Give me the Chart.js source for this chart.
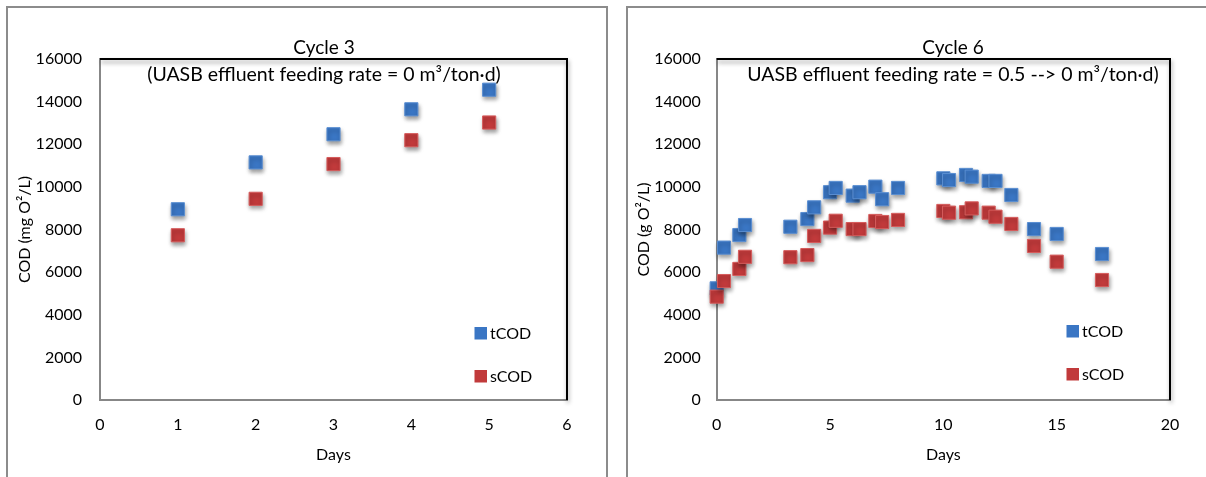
<!DOCTYPE html>
<html>
<head>
<meta charset="utf-8">
<script src="https://cdn.jsdelivr.net/npm/chart.js@4.4.1/dist/chart.umd.min.js"></script>
<style>
  body { margin: 0; background: #fff; width: 1206px; height: 477px; overflow: hidden; position: relative; }
  .panel { position: absolute; top: 6px; height: 490px; border: 2px solid #8c8c8c; box-sizing: border-box; }
  #p1 { left: 6px; width: 602px; }
  #p2 { left: 626px; width: 600px; }
  canvas { position: absolute; top: 0; }
  #c3 { left: 0; }
  #c6 { left: 620px; }
</style>
</head>
<body>
<div class="panel" id="p1"></div>
<div class="panel" id="p2"></div>
<canvas id="c3" width="610" height="477"></canvas>
<canvas id="c6" width="586" height="477"></canvas>
<script>
// Cycle 3
const c3Days = [1, 2, 3, 4, 5];
const c3tCOD = [8950, 11150, 12470, 13640, 14560];
const c3sCOD = [7730, 9440, 11070, 12190, 13020];

// Cycle 6
const c6Days = [0, 0.32, 1, 1.25, 3.25, 4, 4.3, 5, 5.25, 6, 6.3, 7, 7.3, 8, 10, 10.25, 11, 11.25, 12, 12.3, 13, 14, 15, 17];
const c6tCOD = [5240, 7150, 7740, 8210, 8130, 8490, 9040, 9750, 9950, 9590, 9750, 10010, 9420, 9950, 10400, 10320, 10560, 10480, 10280, 10280, 9620, 8020, 7790, 6850];
const c6sCOD = [4850, 5580, 6150, 6720, 6700, 6800, 7700, 8090, 8410, 8020, 8020, 8400, 8350, 8450, 8870, 8790, 8810, 8990, 8790, 8600, 8260, 7230, 6490, 5630];

const seriesNames = ['tCOD', 'sCOD'];
const yTicksMax = 16000, yStep = 2000;

const FONT = 'Lato';
const blue = { fill: '#3a76c4', edge: '#5b8fd2' };
const red = { fill: '#c13a3b', edge: '#d65d5d' };

function pts(xs, ys) {
  return xs.map((x, i) => ({ x: x, y: ys[i] }));
}

// drop shadow under the markers
const shadow = {
  id: 'shadow',
  beforeDatasetsDraw(chart) {
    const ctx = chart.ctx;
    ctx.save();
    ctx.shadowColor = 'rgba(0,0,0,0.38)';
    ctx.shadowBlur = 4;
    ctx.shadowOffsetX = 1;
    ctx.shadowOffsetY = 3;
  },
  afterDatasetsDraw(chart) {
    chart.ctx.restore();
  }
};

// frame, titles and in-plot legend
const decor = {
  id: 'decor',
  beforeDatasetsDraw(chart) {
    const { ctx, chartArea: a } = chart;
    ctx.save();
    ctx.strokeStyle = '#000';
    ctx.lineWidth = 2;
    ctx.beginPath();
    ctx.moveTo(a.left, a.top);
    ctx.lineTo(a.right, a.top);
    ctx.lineTo(a.right, a.bottom);
    ctx.stroke();
    ctx.restore();
  },
  afterDraw(chart, args, o) {
    const ctx = chart.ctx;
    ctx.save();
    ctx.fillStyle = '#000';
    ctx.textAlign = 'center';
    ctx.textBaseline = 'middle';
    ctx.font = '19px ' + FONT;
    ctx.fillText(o.title, o.titleX, 48);
    ctx.font = '19.5px ' + FONT;
    ctx.fillText(o.subtitle, o.titleX, 75);

    const cols = [blue, red];
    ctx.textAlign = 'left';
    ctx.font = '16px ' + FONT;
    seriesNames.forEach((name, i) => {
      const y = o.legendY[i];
      ctx.fillStyle = cols[i].fill;
      ctx.fillRect(o.legendX - 6, y - 6, 12.5, 12.5);
      ctx.fillStyle = '#000';
      ctx.fillText(name, o.legendX + 9.5, y + 1);
    });
    ctx.restore();
  }
};

function makeChart(id, days, tcod, scod, cfg) {
  const tickFont = { family: FONT, size: 16 };
  const titleFont = { family: FONT, size: 16 };
  return new Chart(document.getElementById(id), {
    type: 'scatter',
    data: {
      datasets: [
        { label: seriesNames[0], data: pts(days, tcod), order: 1, clip: false,
          backgroundColor: blue.fill, borderColor: blue.edge, borderWidth: 1,
          pointStyle: 'rect', pointRadius: 9.3, pointHoverRadius: 9.3 },
        { label: seriesNames[1], data: pts(days, scod), order: 0, clip: false,
          backgroundColor: red.fill, borderColor: red.edge, borderWidth: 1,
          pointStyle: 'rect', pointRadius: 9.3, pointHoverRadius: 9.3 }
      ]
    },
    options: {
      responsive: false,
      animation: false,
      devicePixelRatio: 1,
      layout: { padding: cfg.padding },
      plugins: {
        legend: { display: false },
        tooltip: { enabled: false },
        decor: cfg.decor
      },
      scales: {
        x: {
          type: 'linear', min: 0, max: cfg.xMax,
          ticks: { stepSize: cfg.xStep, color: '#000', font: tickFont, padding: 15 },
          grid: { display: false, drawTicks: false },
          border: { display: true, color: '#878787', width: 2 },
          title: { display: true, text: 'Days', color: '#000', font: titleFont, padding: { top: 0, bottom: 13 } },
          afterFit: s => { s.height = 77; }
        },
        y: {
          type: 'linear', min: 0, max: yTicksMax,
          ticks: { stepSize: yStep, color: '#000', font: tickFont, padding: cfg.yTickPad, callback: v => String(v) },
          grid: { display: false, drawTicks: false },
          border: { display: true, color: '#878787', width: 2 },
          title: { display: true, text: cfg.yTitle, color: '#000', font: titleFont, padding: { top: 10, bottom: 0 } },
          afterFit: s => { s.width = cfg.yWidth; }
        }
      }
    },
    plugins: [shadow, decor]
  });
}

makeChart('c3', c3Days, c3tCOD, c3sCOD, {
  padding: { left: 5, right: 43, top: 59, bottom: 0 },
  yWidth: 95, yTickPad: 18, xMax: 6, xStep: 1,
  yTitle: 'COD (mg O\u00B2/L)',
  decor: {
    title: 'Cycle 3',
    subtitle: '(UASB effluent feeding rate = 0 m\u00B3/ton\u00B7d)',
    titleX: 324, legendX: 480.5, legendY: [333, 376]
  }
});

makeChart('c6', c6Days, c6tCOD, c6sCOD, {
  padding: { left: 4, right: 36, top: 59, bottom: 0 },
  yWidth: 92.7, yTickPad: 16, xMax: 20, xStep: 5,
  yTitle: 'COD (g O\u00B2/L)',
  decor: {
    title: 'Cycle 6',
    subtitle: 'UASB effluent feeding rate = 0.5 --> 0 m\u00B3/ton\u00B7d)',
    titleX: 333, legendX: 452.5, legendY: [331, 374]
  }
});
</script>
</body>
</html>
